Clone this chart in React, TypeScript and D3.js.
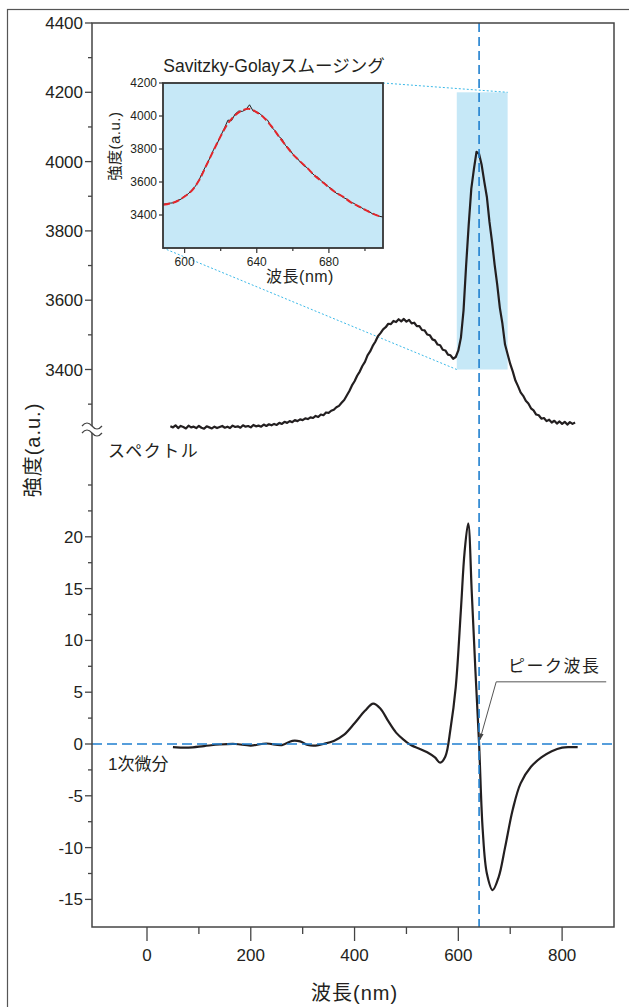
import * as d3 from "d3";

// spectrum (noisy), 5 nm grid starting at 45 nm
const specStartNm = 45;
const specStepNm = 5;
const spectrum = [
  3236, 3233, 3239, 3231, 3237, 3234, 3230, 3238, 3233, 3235, // 45-90
  3231, 3237, 3232, 3229, 3236, 3233, 3230, 3235, 3231, 3234, // 95-140
  3237, 3232, 3235, 3231, 3238, 3234, 3236, 3232, 3239, 3235, // 145-190
  3237, 3233, 3240, 3236, 3238, 3235, 3241, 3237, 3242, 3239, // 195-240
  3243, 3240, 3246, 3243, 3249, 3246, 3251, 3248, 3254, 3251, // 245-290
  3256, 3254, 3259, 3257, 3262, 3260, 3266, 3263, 3270, 3268, // 295-340
  3276, 3275, 3281, 3284, 3291, 3295, 3304, 3312, 3325, 3338, // 345-390
  3354, 3366, 3382, 3394, 3410, 3422, 3441, 3452, 3468, 3480, // 395-440
  3496, 3505, 3516, 3522, 3532, 3531, 3540, 3537, 3545, 3539, // 445-490
  3546, 3538, 3543, 3533, 3535, 3525, 3525, 3514, 3513, 3501, // 495-540
  3499, 3487, 3484, 3472, 3470, 3457, 3455, 3443, 3441, 3431, // 545-590
  3436, 3455, 3492, 3570, 3700, 3818, 3922, 3978, 4028, 4022, // 595-640
  3990, 3942, 3898, 3826, 3768, 3702, 3644, 3578, 3532, 3472, // 645-690
  3444, 3416, 3394, 3368, 3352, 3334, 3324, 3310, 3302, 3288, // 695-740
  3282, 3270, 3268, 3258, 3260, 3251, 3255, 3247, 3252, 3244, // 745-790
  3250, 3243, 3249, 3241, 3248, 3243, 3247, // 795-825
];

// 1st derivative
const derivNm = [50, 80, 110, 140, 170, 200, 230, 260, 280, 295, 310, 325, 340, 360, 380, 400, 420, 436, 450, 465, 480, 495, 510, 525, 540, 555, 565, 575, 585, 595, 605, 612, 619, 626, 633, 640, 647, 655, 666, 678, 690, 705, 720, 740, 760, 780, 800, 815, 830];
const derivVal = [-0.3, -0.35, -0.2, -0.05, 0, -0.15, 0.05, -0.1, 0.3, 0.25, -0.1, -0.15, 0, 0.3, 0.9, 2.0, 3.2, 3.9, 3.4, 2.2, 1.1, 0.4, -0.15, -0.45, -0.8, -1.3, -1.8, -1.2, 1.5, 5.5, 13.0, 18.5, 21.3, 14.5, 7.0, 0, -8.3, -12.5, -14.1, -12.8, -10.0, -6.3, -3.8, -2.2, -1.3, -0.7, -0.35, -0.3, -0.3];

// inset: raw (2 nm grid from 588) and Savitzky-Golay smoothed
const insetRawStart = 588;
const insetRawStep = 2;
const insetRaw = [
  3465, 3468, 3472, 3474, 3488, 3496, 3515, 3528, 3552, 3575,
  3612, 3660, 3702, 3745, 3795, 3832, 3880, 3925, 3975, 3972,
  4012, 4030, 4028, 4040, 4068, 4030, 4025, 4012, 3990, 3975,
  3935, 3912, 3878, 3860, 3820, 3802, 3768, 3750, 3722, 3700,
  3686, 3660, 3640, 3628, 3604, 3590, 3568, 3556, 3532, 3524,
  3506, 3496, 3478, 3470, 3452, 3445, 3430, 3424, 3408, 3402,
  3392, 3388,
];
const insetSmoothNm = [588, 592, 596, 600, 604, 608, 612, 616, 620, 624, 628, 632, 636, 640, 644, 648, 652, 656, 660, 664, 668, 672, 676, 680, 684, 688, 692, 696, 700, 704, 708, 710];
const insetSmooth = [3462, 3470, 3485, 3512, 3548, 3610, 3700, 3790, 3878, 3955, 4005, 4034, 4043, 4022, 3990, 3940, 3880, 3822, 3768, 3725, 3685, 3640, 3604, 3568, 3535, 3510, 3478, 3455, 3432, 3410, 3393, 3388];

const peakNm = 640;
const zoomNm = [597, 695];
const zoomVal = [3400, 4200];

const xTicks = [0, 200, 400, 600, 800];
const xMinor = [100, 300, 500, 700];
const topTicks = [3400, 3600, 3800, 4000, 4200, 4400];
const topMinor = [3300, 3500, 3700, 3900, 4100, 4300];
const botTicks = [-15, -10, -5, 0, 5, 10, 15, 20];
const botMinor = [-12.5, -7.5, -2.5, 2.5, 7.5, 12.5, 17.5, 22.5, 25];
const insetXTicks = [600, 640, 680];
const insetXMinor = [620, 660, 700];
const insetYTicks = [3400, 3600, 3800, 4000, 4200];

const font = "'Liberation Sans', Arial, 'Noto Sans CJK JP', sans-serif";
const ink = "#231f20";
const blue = "#1f7fcf";
const lightBlue = "#c6e8f7";

export default function App() {
  const plot = { left: 92, right: 614, top: 23, bottom: 927 };
  const x = d3.scaleLinear().domain([-106, 900]).range([plot.left, plot.right]);
  const yTop = d3.scaleLinear().domain([3400, 4400]).range([369.5, plot.top]);
  const yBot = d3.scaleLinear().domain([-15, 20]).range([899.4, 536.8]);

  const inset = { left: 163, right: 383, top: 83, bottom: 248 };
  const ix = d3.scaleLinear().domain([588, 710]).range([inset.left, inset.right]);
  const iy = d3.scaleLinear().domain([3200, 4200]).range([inset.bottom, inset.top]);

  const specPath = d3
    .line<number>()
    .x((_, i) => x(specStartNm + i * specStepNm))
    .y((d) => yTop(d))(spectrum);

  const derivPath = d3
    .line<number>()
    .x((_, i) => x(derivNm[i]))
    .y((d) => yBot(d))
    .curve(d3.curveCatmullRom)(derivVal);

  const insetRawPath = d3
    .line<number>()
    .x((_, i) => ix(insetRawStart + i * insetRawStep))
    .y((d) => iy(d))(insetRaw);

  const insetSmoothPath = d3
    .line<number>()
    .x((_, i) => ix(insetSmoothNm[i]))
    .y((d) => iy(d))
    .curve(d3.curveCatmullRom)(insetSmooth);

  const breakY = 429;
  const leader = [
    [x(885), yBot(6)],
    [x(673), yBot(6)],
    [x(641.5), yBot(0.4)],
  ];

  return (
    <svg width={629} height={1007} style={{ position: "absolute", left: 0, top: 0, background: "#fff" }} fontFamily={font}>
      <defs>
        <marker id="arr" viewBox="0 0 10 10" refX="9" refY="5" markerWidth="7" markerHeight="7" orient="auto">
          <path d="M0,2 L10,5 L0,8 z" fill="#444" />
        </marker>
      </defs>

      {/* outer frame */}
      <rect x={7.5} y={9.5} width={700} height={1100} fill="none" stroke="#555" strokeWidth={1.2} />

      {/* zoom region */}
      <rect
        x={x(zoomNm[0])}
        y={yTop(zoomVal[1])}
        width={x(zoomNm[1]) - x(zoomNm[0])}
        height={yTop(zoomVal[0]) - yTop(zoomVal[1])}
        fill={lightBlue}
      />
      <line x1={inset.right} y1={inset.top} x2={x(zoomNm[1])} y2={yTop(zoomVal[1])} stroke="#3bb9e8" strokeWidth={1} strokeDasharray="2,2" />
      <line x1={inset.left} y1={inset.bottom} x2={x(zoomNm[0])} y2={yTop(zoomVal[0])} stroke="#3bb9e8" strokeWidth={1} strokeDasharray="2,2" />

      {/* curves */}
      <path d={specPath ?? ""} fill="none" stroke={ink} strokeWidth={2.2} strokeLinejoin="round" />
      <path d={derivPath ?? ""} fill="none" stroke={ink} strokeWidth={2.2} />

      {/* reference lines */}
      <line x1={plot.left} x2={plot.right} y1={yBot(0)} y2={yBot(0)} stroke={blue} strokeWidth={1.6} strokeDasharray="10,5" />
      <line x1={x(peakNm)} x2={x(peakNm)} y1={plot.top} y2={plot.bottom} stroke={blue} strokeWidth={1.6} strokeDasharray="9,5" />

      {/* plot frame */}
      <rect x={plot.left} y={plot.top} width={plot.right - plot.left} height={plot.bottom - plot.top} fill="none" stroke="#444" strokeWidth={1.5} />

      {/* x axis */}
      {xTicks.map((t) => (
        <g key={"xt" + t}>
          <line x1={x(t)} x2={x(t)} y1={plot.bottom} y2={plot.bottom + 14} stroke="#444" strokeWidth={1.3} />
          <text x={x(t)} y={961} textAnchor="middle" fontSize={17} fill={ink}>{t}</text>
        </g>
      ))}
      {xMinor.map((t) => (
        <line key={"xm" + t} x1={x(t)} x2={x(t)} y1={plot.bottom} y2={plot.bottom + 7} stroke="#444" strokeWidth={1.3} />
      ))}
      <text x={x(400)} y={1000} textAnchor="middle" fontSize={20} letterSpacing={1} fill={ink}>波長(nm)</text>

      {/* y axis, spectrum part */}
      {topTicks.map((t) => (
        <g key={"yt" + t}>
          <line x1={plot.left - 7} x2={plot.left} y1={yTop(t)} y2={yTop(t)} stroke="#444" strokeWidth={1.3} />
          <text x={83} y={yTop(t) + 6} textAnchor="end" fontSize={17} fill={ink}>{t}</text>
        </g>
      ))}
      {topMinor.map((t) => (
        <line key={"ym" + t} x1={plot.left - 4} x2={plot.left} y1={yTop(t)} y2={yTop(t)} stroke="#444" strokeWidth={1.3} />
      ))}

      {/* y axis, derivative part */}
      {botTicks.map((t) => (
        <g key={"bt" + t}>
          <line x1={plot.left - 7} x2={plot.left} y1={yBot(t)} y2={yBot(t)} stroke="#444" strokeWidth={1.3} />
          <text x={83} y={yBot(t) + 6} textAnchor="end" fontSize={17} fill={ink}>{t}</text>
        </g>
      ))}
      {botMinor.map((t) => (
        <line key={"bm" + t} x1={plot.left - 4} x2={plot.left} y1={yBot(t)} y2={yBot(t)} stroke="#444" strokeWidth={1.3} />
      ))}

      {/* axis break */}
      <path
        d={`M82,${breakY - 3} Q87,${breakY - 9} 92,${breakY - 3} T102,${breakY - 3} L102,${breakY + 4} Q97,${breakY + 10} 92,${breakY + 4} T82,${breakY + 4} Z`}
        fill="#fff"
        stroke="none"
      />
      <path d={`M82,${breakY - 3} Q87,${breakY - 9} 92,${breakY - 3} T102,${breakY - 3}`} fill="none" stroke="#444" strokeWidth={1.2} />
      <path d={`M82,${breakY + 4} Q87,${breakY - 2} 92,${breakY + 4} T102,${breakY + 4}`} fill="none" stroke="#444" strokeWidth={1.2} />

      <text transform="translate(33,450) rotate(-90)" textAnchor="middle" dominantBaseline="central" fontSize={20} letterSpacing={1} fill={ink}>強度(a.u.)</text>

      {/* labels */}
      <text x={108} y={457} fontSize={17} letterSpacing={1.5} fill={ink}>スペクトル</text>
      <text x={108} y={770} fontSize={17} fill={ink}>1次微分</text>
      <text x={508} y={672} fontSize={17} letterSpacing={1.5} fill={ink}>ピーク波長</text>
      <polyline points={leader.map((p) => p.join(",")).join(" ")} fill="none" stroke="#555" strokeWidth={1} markerEnd="url(#arr)" />

      {/* inset */}
      <text x={(inset.left + inset.right) / 2 + 1} y={72} textAnchor="middle" fontSize={17.5} fill={ink}>Savitzky-Golayスムージング</text>
      <rect x={inset.left} y={inset.top} width={inset.right - inset.left} height={inset.bottom - inset.top} fill={lightBlue} />
      <path d={insetRawPath ?? ""} fill="none" stroke={ink} strokeWidth={1} />
      <path d={insetSmoothPath ?? ""} fill="none" stroke="#e3262b" strokeWidth={2} strokeDasharray="7,3" />
      <rect x={inset.left} y={inset.top} width={inset.right - inset.left} height={inset.bottom - inset.top} fill="none" stroke="#333" strokeWidth={1.8} />
      {insetXTicks.map((t) => (
        <g key={"ixt" + t}>
          <line x1={ix(t)} x2={ix(t)} y1={inset.bottom} y2={inset.bottom + 5} stroke="#333" strokeWidth={1.2} />
          <text x={ix(t)} y={266} textAnchor="middle" fontSize={12} fill={ink}>{t}</text>
        </g>
      ))}
      {insetXMinor.map((t) => (
        <line key={"ixm" + t} x1={ix(t)} x2={ix(t)} y1={inset.bottom} y2={inset.bottom + 3} stroke="#333" strokeWidth={1.2} />
      ))}
      {insetYTicks.map((t) => (
        <g key={"iyt" + t}>
          <line x1={inset.left - 4} x2={inset.left} y1={iy(t)} y2={iy(t)} stroke="#333" strokeWidth={1.2} />
          <text x={157} y={iy(t) + 4} textAnchor="end" fontSize={12} fill={ink}>{t}</text>
        </g>
      ))}
      <text x={300} y={282} textAnchor="middle" fontSize={16} letterSpacing={0.5} fill={ink}>波長(nm)</text>
      <text transform="translate(114,146) rotate(-90)" textAnchor="middle" dominantBaseline="central" fontSize={15} letterSpacing={0.5} fill={ink}>強度(a.u.)</text>
    </svg>
  );
}
